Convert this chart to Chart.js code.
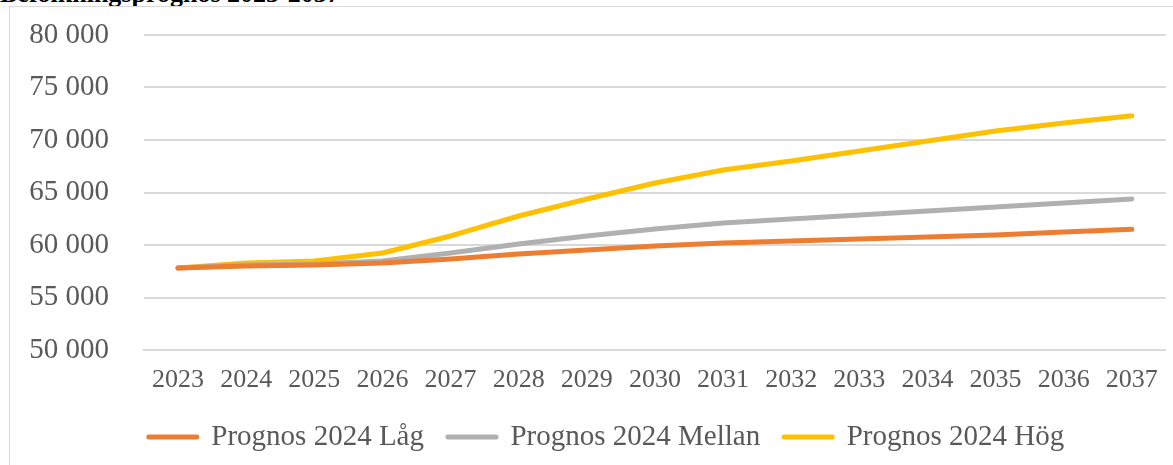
<!DOCTYPE html>
<html>
<head>
<meta charset="utf-8">
<script src="https://cdn.jsdelivr.net/npm/chart.js@4"></script>
<style>
  html, body { margin: 0; padding: 0; background: #fff; overflow: hidden; }
  body { width: 1173px; height: 465px; position: relative; }
  #title {
    position: absolute; left: 0; top: -19px;
    font: bold 26px "Liberation Serif", serif; line-height: 26px;
    color: #000; white-space: nowrap;
  }
  #frame {
    position: absolute; left: 9px; top: 6px; width: 1170px; height: 470px;
    border: 1px solid #d9d9d9; box-sizing: border-box;
  }
  #wrap { position: absolute; left: 10px; top: 7px; width: 1163px; height: 458px; }
</style>
</head>
<body>
<div id="title">Befolkningsprognos 2023-2037</div>
<div id="frame"></div>
<div id="wrap"><canvas id="popChart"></canvas></div>
<script>
// Befolkningsprognos
const years = ['2023', '2024', '2025', '2026', '2027', '2028', '2029', '2030',
               '2031', '2032', '2033', '2034', '2035', '2036', '2037'];
const prognosLag = [57800, 58000, 58100, 58290, 58670, 59140, 59520, 59900,
                    60190, 60380, 60570, 60760, 60950, 61240, 61500];
const prognosMellan = [57800, 58100, 58190, 58480, 59240, 60100, 60860, 61520,
                       62100, 62480, 62860, 63240, 63620, 64000, 64380];
const prognosHog = [57800, 58290, 58480, 59240, 60860, 62760, 64380, 65900,
                    67140, 68000, 68950, 69900, 70860, 71620, 72300];

const fmt = v => String(v).replace(/\B(?=(\d{3})+(?!\d))/g, ' ');

function line(label, data, color) {
    return {
        label: label,
        data: data,
        borderColor: color,
        backgroundColor: color,
        borderWidth: 5,
        borderCapStyle: 'round',
        borderJoinStyle: 'round',
        pointRadius: 0,
        tension: 0,
        fill: false
    };
}

// let the y labels draw left of the axis box (they are clipped to it otherwise)
const widenYLabels = {
    id: 'widenYLabels',
    afterLayout(chart) { chart.scales.y.left = 0; }
};

const ctx = document.getElementById('popChart').getContext('2d');
new Chart(ctx, {
    type: 'line',
    data: {
        labels: years,
        datasets: [
            line('Prognos 2024 Låg', prognosLag, '#ED7D31'),
            line('Prognos 2024 Mellan', prognosMellan, '#B0B0B0'),
            line('Prognos 2024 Hög', prognosHog, '#FFC000')
        ]
    },
    plugins: [widenYLabels],
    options: {
        responsive: true,
        maintainAspectRatio: false,
        animation: false,
        layout: { padding: { left: 35, right: 5, top: 28, bottom: 3.5 } },
        plugins: {
            tooltip: { enabled: false },
            legend: {
                position: 'bottom',
                labels: {
                    color: '#595959',
                    font: { family: 'Liberation Serif', size: 29 },
                    boxWidth: 48,
                    boxHeight: 0,
                    padding: 24
                }
            }
        },
        scales: {
            x: {
                offset: true,
                grid: { display: false, drawTicks: false },
                border: { display: true, color: '#d9d9d9', width: 2 },
                ticks: {
                    color: '#595959',
                    font: { family: 'Liberation Serif', size: 26 },
                    padding: 15,
                    maxRotation: 0,
                    autoSkip: false
                },
                afterFit: axis => { axis.height = 48.5; }
            },
            y: {
                min: 50000,
                max: 80000,
                grid: { color: '#d9d9d9', lineWidth: 2, drawTicks: false },
                border: { display: false },
                ticks: {
                    stepSize: 5000,
                    color: '#595959',
                    font: { family: 'Liberation Serif', size: 29 },
                    padding: 35,
                    callback: v => fmt(v)
                },
                afterFit: axis => {
                    axis.width = 99;
                    axis.paddingTop = 0;
                    axis.paddingBottom = 0;
                }
            }
        }
    }
});
</script>
</body>
</html>
